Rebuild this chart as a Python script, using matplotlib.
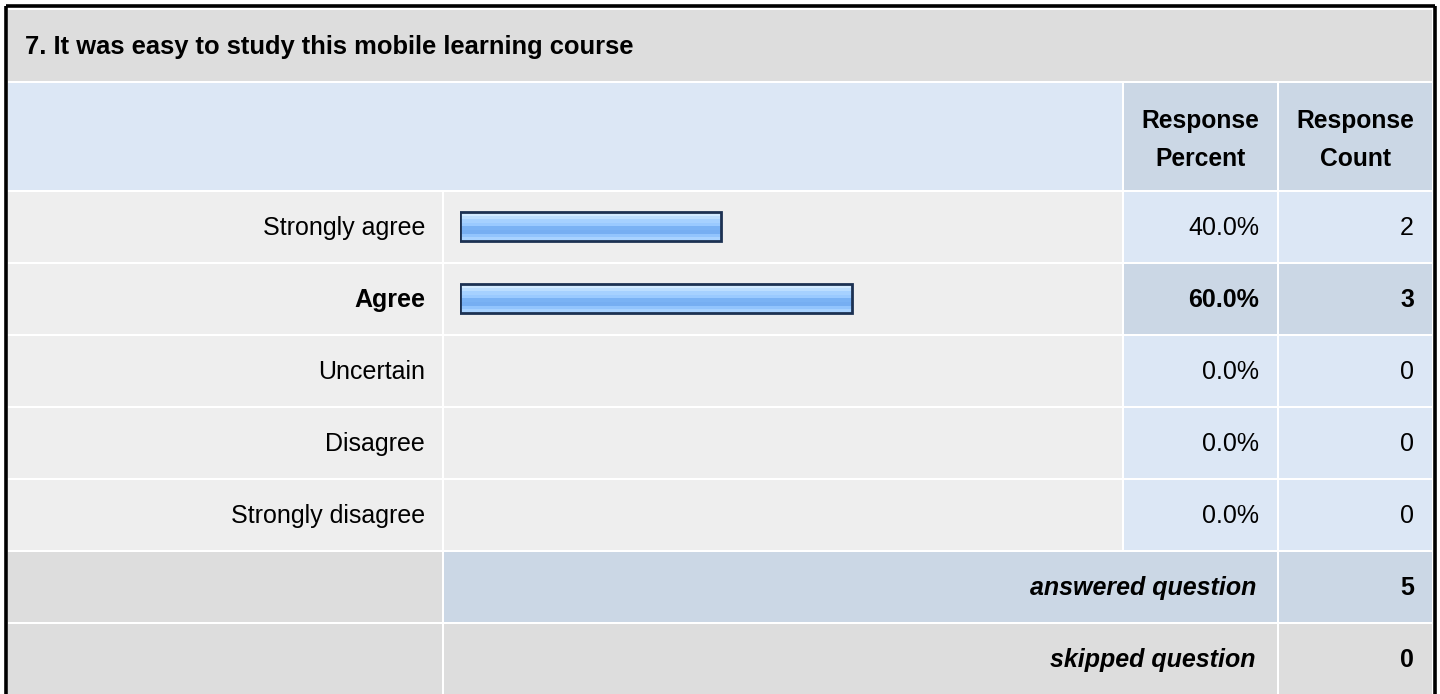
import matplotlib
matplotlib.use("Agg")
import matplotlib.pyplot as plt
from matplotlib.patches import Rectangle
from matplotlib.colors import to_rgb
import numpy as np

# ---- data ----
title = "7. It was easy to study this mobile learning course"
categories = ["Strongly agree", "Agree", "Uncertain", "Disagree", "Strongly disagree"]
percents = [40.0, 60.0, 0.0, 0.0, 0.0]
counts = [2, 3, 0, 0, 0]
highlight = "Agree"
answered = 5
skipped = 0
header_pct = "Response\nPercent"
header_cnt = "Response\nCount"

W, H = 1440, 694
fig = plt.figure(figsize=(W / 100, H / 100), dpi=100)
fig.patch.set_facecolor("white")
ax = fig.add_axes([0, 0, 1, 1])
ax.set_xlim(0, W)
ax.set_ylim(H, 0)
ax.axis("off")

FONT = "Liberation Sans"
FS = 18.0

GRAY_T = "#DDDDDD"
LIGHT = "#EEEEEE"
BLUE = "#DCE7F5"
BLUE2 = "#CBD7E5"

# columns
xL0, xL1 = 8, 442
xB0, xB1 = 444, 1122
xP0, xP1 = 1124, 1277
xC0, xC1 = 1279, 1432


def cell(x0, x1, y0, y1, color):
    ax.add_patch(Rectangle((x0, y0), x1 - x0, y1 - y0, facecolor=color, edgecolor="none", zorder=1))


# title row
cell(xL0, xC1, 10, 81, GRAY_T)
ax.text(25, 47, title, fontsize=18.4, fontweight="bold", family=FONT, va="center", ha="left", zorder=3)

# header row
hy0, hy1 = 83, 190
cell(xL0, xB1, hy0, hy1, BLUE)
cell(xP0, xP1, hy0, hy1, BLUE2)
cell(xC0, xC1, hy0, hy1, BLUE2)
for xc, txt in (((xP0 + xP1) / 2, header_pct), ((xC0 + xC1) / 2, header_cnt)):
    ax.text(xc, 140, txt, fontsize=17.7, fontweight="bold", family=FONT,
            va="center", ha="center", linespacing=1.72, zorder=3)

# data rows
row0 = 192
pitch = 72
rh = 70
for i, (cat, p, c) in enumerate(zip(categories, percents, counts)):
    y0 = row0 + i * pitch
    y1 = y0 + rh
    hl = cat == highlight
    cell(xL0, xL1, y0, y1, LIGHT)
    cell(xB0, xB1, y0, y1, LIGHT)
    cell(xP0, xP1, y0, y1, BLUE2 if hl else BLUE)
    cell(xC0, xC1, y0, y1, BLUE2 if hl else BLUE)
    w = "bold" if hl else "normal"
    yc = (y0 + y1) / 2 + 1
    ax.text(425, yc, cat, fontsize=FS, fontweight=w, family=FONT, va="center", ha="right", zorder=3)
    ax.text(1259, yc, f"{p:.1f}%", fontsize=FS, fontweight=w, family=FONT, va="center", ha="right", zorder=3)
    ax.text(1414, yc, f"{c}", fontsize=FS, fontweight=w, family=FONT, va="center", ha="right", zorder=3)

# answered row
ya0 = row0 + 5 * pitch
cell(xL0, xL1, ya0, ya0 + rh, GRAY_T)
cell(xB0, xP1, ya0, ya0 + rh, BLUE2)
cell(xC0, xC1, ya0, ya0 + rh, BLUE2)
ax.text(1256, ya0 + rh / 2 + 1, "answered question", fontsize=FS, fontweight="bold", style="italic",
        family=FONT, va="center", ha="right", zorder=3)
ax.text(1414, ya0 + rh / 2 + 1, f"{answered}", fontsize=FS, fontweight="bold",
        family=FONT, va="center", ha="right", zorder=3)

# skipped row
ys0 = row0 + 6 * pitch
cell(xL0, xL1, ys0, H + 5, GRAY_T)
cell(xB0, xP1, ys0, H + 5, GRAY_T)
cell(xC0, xC1, ys0, H + 5, GRAY_T)
ax.text(1256, ys0 + rh / 2 + 1, "skipped question", fontsize=FS, fontweight="bold", style="italic",
        family=FONT, va="center", ha="right", zorder=3)
ax.text(1414, ys0 + rh / 2 + 1, f"{skipped}", fontsize=FS, fontweight="bold",
        family=FONT, va="center", ha="right", zorder=3)

# outer border
ax.plot([5.5, 5.5], [5.5, H + 5], color="black", lw=2.6, zorder=5, solid_capstyle="butt")
ax.plot([5.5, 1434.5], [5.5, 5.5], color="black", lw=2.6, zorder=5, solid_capstyle="butt")
ax.plot([1434.5, 1434.5], [5.5, H + 5], color="black", lw=2.6, zorder=5, solid_capstyle="butt")

# ---- bars in an inset axes (0..100 %) ----
bx0, bx1 = 460, 1113
by0, by1 = row0, row0 + 5 * pitch
bax = fig.add_axes([bx0 / W, 1 - by1 / H, (bx1 - bx0) / W, (by1 - by0) / H])
bax.axis("off")
bax.patch.set_alpha(0)

ypos = np.arange(len(categories)) - 0.02
lws = [2.0 if p > 0 else 0.0 for p in percents]
bars = bax.barh(ypos, percents, height=0.40, facecolor="none", edgecolor="#1C3152", linewidth=lws, zorder=4)

bands = ["#D2EAFF", "#BCDEFF", "#A6D1FF", "#9ACAFF", "#7AB2F4", "#76AEF2", "#92C4FD", "#A8D2FF"]
grad = np.array([to_rgb(c) for c in bands])[:, None, :]
for b, p in zip(bars, percents):
    if p <= 0:
        continue
    x, y = b.get_x(), b.get_y()
    w, h = b.get_width(), b.get_height()
    im = bax.imshow(grad, extent=(x, x + w, y + h, y), aspect="auto", interpolation="nearest", zorder=3)
    im.set_clip_path(b)
bax.set_xlim(0, 100)
bax.set_ylim(len(categories) - 0.5, -0.5)

fig.savefig("out.png", dpi=100)
